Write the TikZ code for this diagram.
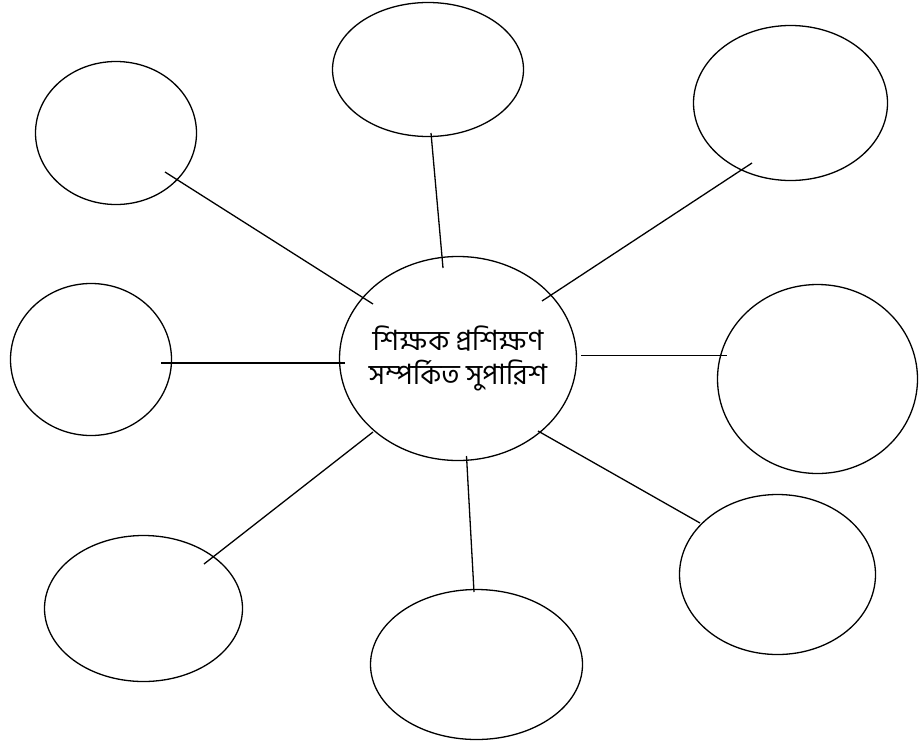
\documentclass[tikz,border=0pt]{standalone}
\usepackage{fontspec}
\usetikzlibrary{shapes.geometric,calc}
\newfontfamily\bangla[Script=Bengali]{Hind Siliguri}

\begin{document}
\begin{tikzpicture}[
    x=1pt, y=-1pt,
    bubble/.style={draw, ellipse, line width=1.3pt, inner sep=0pt},
    link/.style={line width=1.3pt}
  ]
    \useasboundingbox (0,0) rectangle (920,750);
    \node[bubble, inner sep=-16pt, minimum width=237pt, minimum height=204pt, align=center,
      font=\bangla\fontsize{28}{34}\selectfont] (hub) at (458,358.5)
      {শিক্ষক প্রশিক্ষণ\\সম্পর্কিত সুপারিশ};
    \node[bubble, minimum width=161pt, minimum height=143pt] (tl) at (116,133) {};
    \node[bubble, minimum width=191pt, minimum height=134pt] (top) at (428,69.5) {};
    \node[bubble, minimum width=194pt, minimum height=155pt] (tr) at (790.5,103) {};
    \node[bubble, minimum width=161pt, minimum height=152pt] (lft) at (91,359.5) {};
    \node[bubble, minimum width=200pt, minimum height=189pt] (rgt) at (817.5,379) {};
    \node[bubble, minimum width=198pt, minimum height=146pt] (bl) at (143.5,608.5) {};
    \node[bubble, minimum width=212pt, minimum height=150pt] (bot) at (476.5,664.5) {};
    \node[bubble, minimum width=196pt, minimum height=160pt] (br) at (777.5,574.5) {};
    % spokes, ends set by hand so they poke a little into the bubbles
    \draw[link] ($(hub)+(-85,-54.5)$) -- ($(tl)+(49,39)$);
    \draw[link] ($(hub)+(-15,-90.5)$) -- ($(top)+(3,63.5)$);
    \draw[link] ($(hub)+(84,-57.5)$) -- ($(tr)+(-38.5,60)$);
    \draw[link] ($(hub)+(-113,4.5)$) -- ($(lft)+(70,3.5)$);
    \draw[link] ($(hub)+(123,-3)$) -- ($(rgt)+(-90.5,-23.5)$);
    \draw[link] ($(hub)+(-85,73.5)$) -- ($(bl)+(60.5,-44.5)$);
    \draw[link] ($(hub)+(8.5,97.5)$) -- ($(bot)+(-2.5,-72.5)$);
    \draw[link] ($(hub)+(80,72.5)$) -- ($(br)+(-77.5,-51.5)$);
  \end{tikzpicture}
\end{document}
